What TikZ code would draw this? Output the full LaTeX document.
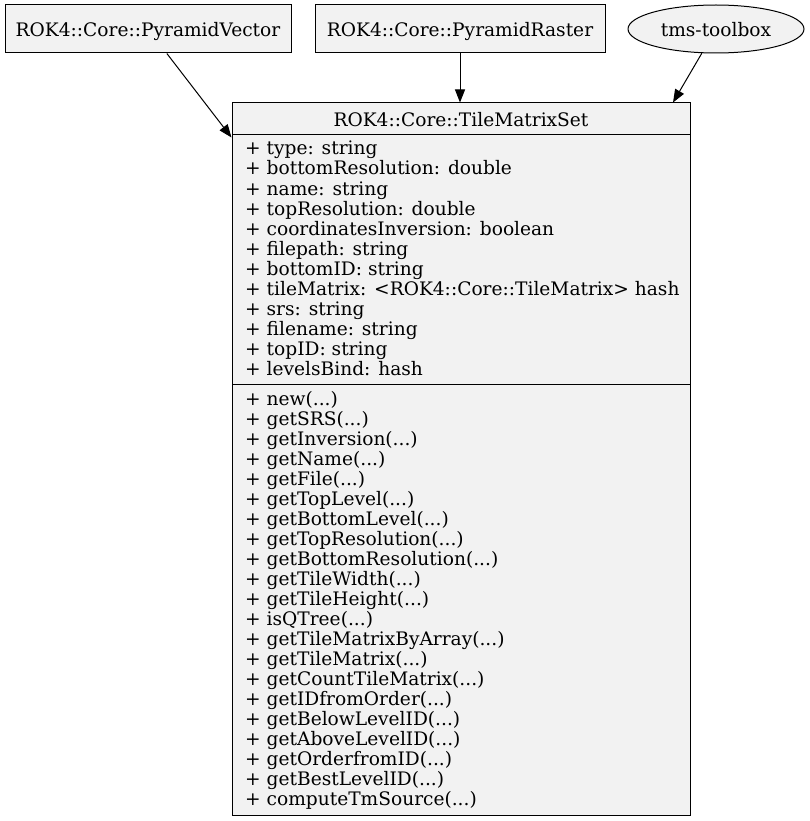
\documentclass[tikz,border=0pt]{standalone}
\usepackage{fontspec}
\setmainfont{DejaVu Serif}
\usetikzlibrary{arrows.meta,shapes.geometric}
\definecolor{boxfill}{HTML}{F2F2F2}
\newcommand\mydots{...}
\begin{document}
\begin{tikzpicture}[x=1pt,y=-1pt,
  every node/.style={font=\fontsize{18.6}{20}\selectfont},
  umlbox/.style={draw=black,fill=boxfill,line width=1pt,inner sep=0pt,rectangle,text depth=0pt},
  ellbox/.style={draw=black,fill=boxfill,line width=1pt,inner sep=0pt,ellipse,minimum width=176pt,minimum height=48pt,text depth=0pt},
  member/.style={anchor=base west,inner sep=0pt},
  dep/.style={draw=black,line width=1pt,-{Triangle[length=13pt,width=10pt]}}]
\useasboundingbox (0,0) rectangle (810,821);
\node[umlbox,minimum width=286pt,minimum height=48pt] (pv) at (148,29) {ROK4::Core::PyramidVector};
\node[umlbox,minimum width=290pt,minimum height=48pt] (pr) at (460,29) {ROK4::Core::PyramidRaster};
\node[ellbox] (tb) at (716,29) {tms-toolbox};
\node[umlbox,minimum width=458pt,minimum height=32pt] (title) at (461,119) {ROK4::Core::TileMatrixSet};
\node[umlbox,minimum width=458pt,minimum height=249pt] (attrs) at (461,259.5) {};
\node[umlbox,minimum width=458pt,minimum height=431pt] (meths) at (461,599.5) {};
\foreach \t [count=\i] in {+ type: string,+ bottomResolution: double,+ name: string,+ topResolution: double,+ coordinatesInversion: boolean,+ filepath: string,+ bottomID: string,+ tileMatrix: <ROK4::Core::TileMatrix> hash,+ srs: string,+ filename: string,+ topID: string,+ levelsBind: hash}
  \node[member] (a\i) at (245,{155+20*(\i-1)}) {\t};
\foreach \t [count=\i] in {new,getSRS,getInversion,getName,getFile,getTopLevel,getBottomLevel,getTopResolution,getBottomResolution,getTileWidth,getTileHeight,isQTree,getTileMatrixByArray,getTileMatrix,getCountTileMatrix,getIDfromOrder,getBelowLevelID,getAboveLevelID,getOrderfromID,getBestLevelID,computeTmSource}
  \node[member] (m\i) at (245,{405.5+20*(\i-1)}) {+ \t(\mydots)};
\draw[dep] (pv) -- ([yshift=-3pt]attrs.north west);
\draw[dep] (pr) -- (pr.south |- title.north);
\draw[dep] (tb) -- ([xshift=212pt]title.north);
\end{tikzpicture}
\end{document}
